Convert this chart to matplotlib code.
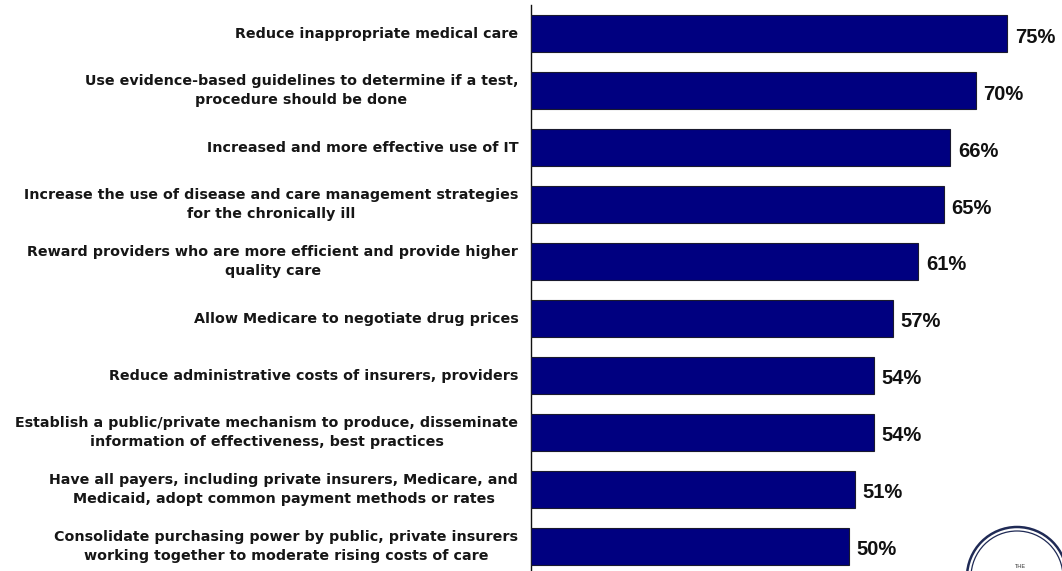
import matplotlib
matplotlib.use('Agg')

import matplotlib.pyplot as plt
import matplotlib.patches as mpatches
import numpy as np

NAVY = "#000080"
EDGE = "#1a1a2e"

labels = [
    "Reduce inappropriate medical care",
    "Use evidence-based guidelines to determine if a test,\nprocedure should be done",
    "Increased and more effective use of IT",
    "Increase the use of disease and care management strategies\nfor the chronically ill",
    "Reward providers who are more efficient and provide higher\nquality care",
    "Allow Medicare to negotiate drug prices",
    "Reduce administrative costs of insurers, providers",
    "Establish a public/private mechanism to produce, disseminate\ninformation of effectiveness, best practices",
    "Have all payers, including private insurers, Medicare, and\nMedicaid, adopt common payment methods or rates",
    "Consolidate purchasing power by public, private insurers\nworking together to moderate rising costs of care",
]
values = [75, 70, 66, 65, 61, 57, 54, 54, 51, 50]

plt.rcParams['font.family'] = ['Liberation Sans', 'DejaVu Sans']

fig = plt.figure(figsize=(10.62, 5.71), dpi=100)
ax = fig.add_axes([0.5, 0.0, 0.5, 0.991])

y = np.arange(len(values))
ax.barh(y, values, height=0.65, color=NAVY, edgecolor=EDGE, linewidth=0.8, zorder=3)
ax.set_xlim(0, 83.6)
ax.set_ylim(9.43, -0.5)

for yi, v in zip(y, values):
    ax.text(v + 1.2, yi + 0.06, f"{v}%", va='center', ha='left',
            fontsize=14.5, fontweight='bold', color='#111111')

# category labels, wide bold face, lines centred under each other
for yi, lab in zip(y, labels):
    ax.text(-2.0, yi, lab, va='center', ha='right', multialignment='center',
            fontsize=10.3, fontweight='bold', color='#161616', linespacing=1.48,
            family='DejaVu Sans')

for s in ['top', 'right', 'bottom']:
    ax.spines[s].set_visible(False)
ax.spines['left'].set_color('#111111')
ax.spines['left'].set_linewidth(1.0)
ax.set_xticks([])
ax.set_yticks([])

# stamp in the lower right corner, mostly cut off by the figure edge
W, H = 1062, 571
cx, cy = 1017 / W, 1 - 577 / H
for r, lw in [(50, 1.8), (46, 0.9)]:
    ring = mpatches.Ellipse((cx, cy), 2 * r / W, 2 * r / H, transform=fig.transFigure,
                            fill=False, edgecolor='#1f2a55', linewidth=lw, clip_on=False)
    fig.patches.append(ring)
fig.text(1020 / W, 1 - 567 / H, "THE", fontsize=4, ha='center', va='center', color='#333333')

plt.savefig("out.png", dpi=100)
